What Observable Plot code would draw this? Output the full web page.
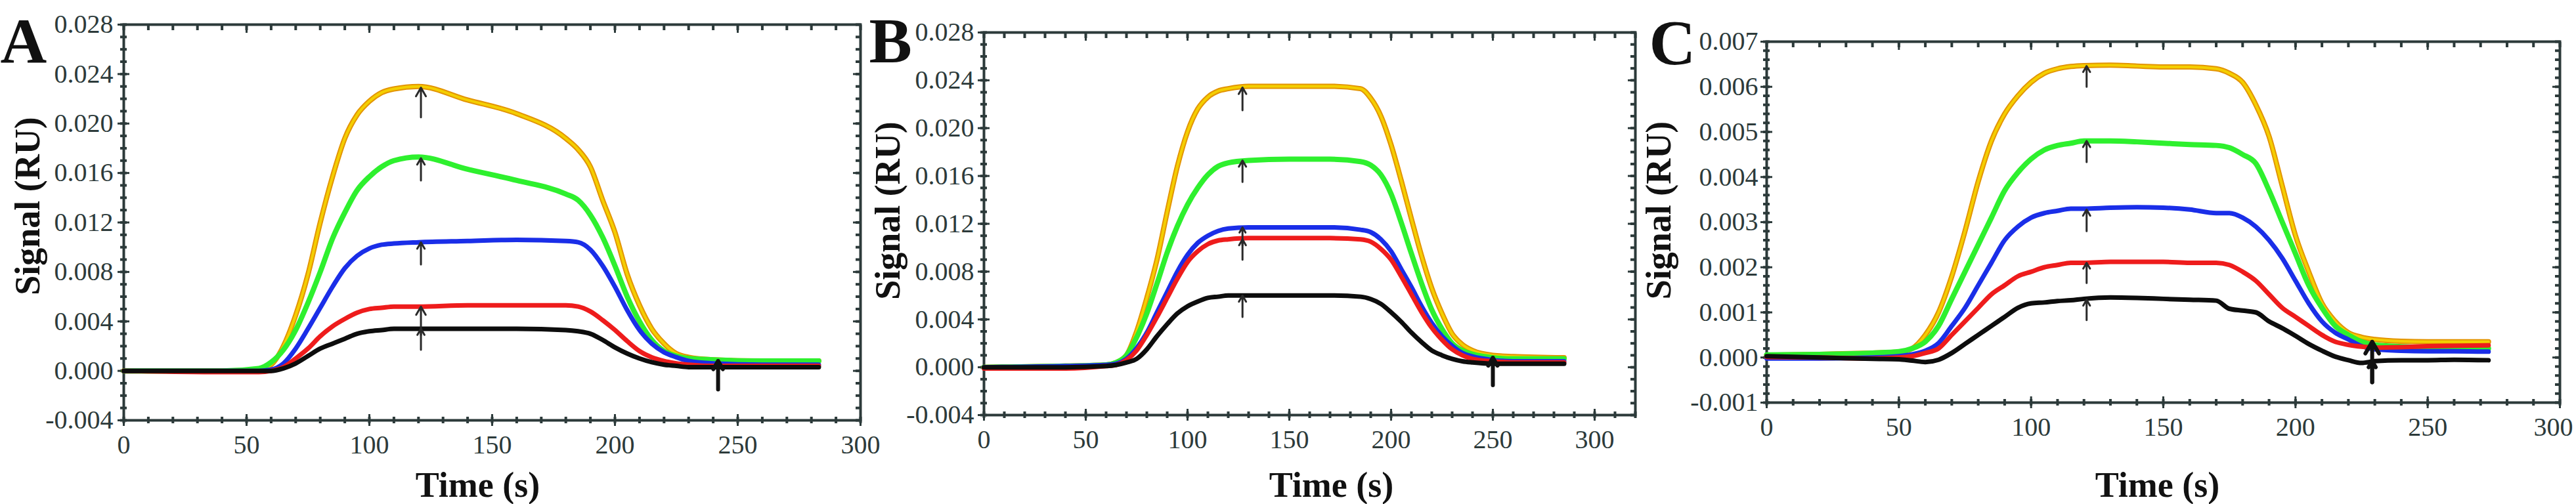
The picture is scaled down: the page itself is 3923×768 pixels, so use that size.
<!DOCTYPE html>
<html><head><meta charset="utf-8">
<script src="https://cdn.jsdelivr.net/npm/d3@7"></script>
<script src="https://cdn.jsdelivr.net/npm/@observablehq/plot@0.6"></script>
<style>
body{margin:0;background:#fff;}
#root{position:relative;width:3923px;height:768px;overflow:hidden;background:#fff;}
.panel{position:absolute;top:0;}
.panel svg{overflow:visible;max-width:none;}
</style></head><body><div id="root"></div>
<script>
// ---- text ----
const panelLetters = ["A", "B", "C"];
const xTitle = "Time (s)";
const yTitle = "Signal (RU)";
const seriesNames = ["yellow", "green", "blue", "red", "black"];

// ---- tick labels ----
const A_xTicks = [0, 50, 100, 150, 200, 250, 300];
const A_yTicks = [-0.004, 0, 0.004, 0.008, 0.012, 0.016, 0.020, 0.024, 0.028];
const B_xTicks = [0, 50, 100, 150, 200, 250, 300];
const B_yTicks = [-0.004, 0, 0.004, 0.008, 0.012, 0.016, 0.020, 0.024, 0.028];
const C_xTicks = [0, 50, 100, 150, 200, 250, 300];
const C_yTicks = [-0.001, 0, 0.001, 0.002, 0.003, 0.004, 0.005, 0.006, 0.007];

// ---- panel A data ----
const A_time   = [0, 40, 55, 60, 65, 70, 75, 80, 85, 90, 95, 100, 105, 110, 120, 140, 160, 180, 185, 190, 195, 200, 205, 210, 215, 220, 225, 230, 240, 260, 283];
const A_yellow = [0, 0, 0.0001, 0.0005, 0.0020, 0.0045, 0.0078, 0.0120, 0.0157, 0.0188, 0.0207, 0.0218, 0.0225, 0.0228, 0.0230, 0.0219, 0.0208, 0.0188, 0.0179, 0.0165, 0.0138, 0.0112, 0.0078, 0.0053, 0.0034, 0.0022, 0.0014, 0.0011, 0.0009, 0.0008, 0.0008];
const A_green  = [0, 0, 0.0002, 0.0007, 0.0017, 0.0033, 0.0055, 0.0080, 0.0107, 0.0128, 0.0146, 0.0157, 0.0165, 0.0170, 0.0173, 0.0163, 0.0154, 0.0143, 0.0138, 0.0126, 0.0108, 0.0085, 0.0060, 0.0040, 0.0025, 0.0016, 0.0012, 0.0010, 0.0009, 0.0008, 0.0008];
const A_blue   = [0, 0, 0, 0.0001, 0.0006, 0.0018, 0.0034, 0.0051, 0.0068, 0.0083, 0.0093, 0.0099, 0.0102, 0.0103, 0.0104, 0.0105, 0.0106, 0.0105, 0.0104, 0.0098, 0.0085, 0.0068, 0.0049, 0.0033, 0.0022, 0.0015, 0.0011, 0.0008, 0.0006, 0.0005, 0.0005];
const A_red    = [0, -0.0001, -0.0001, 0, 0.0003, 0.0010, 0.0018, 0.0028, 0.0036, 0.0042, 0.0047, 0.0050, 0.0051, 0.0052, 0.0052, 0.0053, 0.0053, 0.0053, 0.0052, 0.0048, 0.0041, 0.0033, 0.0024, 0.0016, 0.0011, 0.0008, 0.0006, 0.0005, 0.0004, 0.0004, 0.0004];
const A_black  = [0, 0, 0, 0, 0.0002, 0.0006, 0.0012, 0.0018, 0.0022, 0.0026, 0.0030, 0.0032, 0.0033, 0.0034, 0.0034, 0.0034, 0.0034, 0.0033, 0.0032, 0.0030, 0.0025, 0.0019, 0.0014, 0.0010, 0.0007, 0.0005, 0.0004, 0.0003, 0.0003, 0.0003, 0.0003];
const A_arrowTime = [121, 121, 121, 121, 121];
const A_arrowTail = [0.0205, 0.0154, 0.0086, 0.0029, 0.0017];
const A_arrowTip  = [0.0229, 0.0172, 0.0104, 0.0052, 0.0034];
const A_endTime = [242];
const A_endTail = [-0.0015];
const A_endTip  = [0.0008];

// ---- panel B data ----
const B_time   = [0, 40, 60, 65, 70, 75, 80, 85, 90, 95, 100, 105, 110, 115, 120, 130, 150, 170, 185, 190, 195, 200, 205, 210, 215, 220, 225, 230, 235, 240, 250, 260, 285];
const B_yellow = [0, 0.0001, 0.0002, 0.0004, 0.0010, 0.0030, 0.0058, 0.0090, 0.0130, 0.0168, 0.0197, 0.0216, 0.0226, 0.0231, 0.0233, 0.0235, 0.0235, 0.0235, 0.0233, 0.0225, 0.0210, 0.0186, 0.0156, 0.0124, 0.0093, 0.0066, 0.0045, 0.0028, 0.0019, 0.0014, 0.0010, 0.0009, 0.0008];
const B_green  = [0, 0.0001, 0.0002, 0.0004, 0.0010, 0.0025, 0.0045, 0.0070, 0.0096, 0.0118, 0.0136, 0.0150, 0.0161, 0.0168, 0.0171, 0.0173, 0.0174, 0.0174, 0.0172, 0.0169, 0.0161, 0.0145, 0.0121, 0.0095, 0.0070, 0.0048, 0.0032, 0.0020, 0.0014, 0.0011, 0.0008, 0.0007, 0.0007];
const B_blue   = [0, 0.0001, 0.0002, 0.0003, 0.0007, 0.0016, 0.0029, 0.0046, 0.0063, 0.0080, 0.0094, 0.0104, 0.0110, 0.0114, 0.0116, 0.0117, 0.0117, 0.0117, 0.0115, 0.0113, 0.0107, 0.0097, 0.0082, 0.0067, 0.0051, 0.0037, 0.0026, 0.0018, 0.0012, 0.0009, 0.0006, 0.0005, 0.0005];
const B_red    = [-0.0001, -0.0001, 0.0001, 0.0002, 0.0006, 0.0014, 0.0027, 0.0042, 0.0058, 0.0074, 0.0088, 0.0097, 0.0103, 0.0106, 0.0107, 0.0108, 0.0108, 0.0108, 0.0107, 0.0105, 0.0099, 0.0090, 0.0076, 0.0061, 0.0046, 0.0033, 0.0023, 0.0015, 0.0010, 0.0007, 0.0005, 0.0004, 0.0004];
const B_black  = [0, 0, 0.0001, 0.0002, 0.0004, 0.0007, 0.0015, 0.0026, 0.0036, 0.0045, 0.0051, 0.0055, 0.0058, 0.0059, 0.0060, 0.0060, 0.0060, 0.0060, 0.0059, 0.0057, 0.0053, 0.0046, 0.0038, 0.0029, 0.0021, 0.0014, 0.0010, 0.0007, 0.0005, 0.0004, 0.0003, 0.0003, 0.0003];
const B_arrowTime = [127, 127, 127, 127, 127];
const B_arrowTail = [0.0215, 0.0155, 0.0102, 0.0090, 0.0042];
const B_arrowTip  = [0.0234, 0.0173, 0.0117, 0.0107, 0.0060];
const B_endTime = [250];
const B_endTail = [-0.0015];
const B_endTip  = [0.0008];

// ---- panel C data ----
const C_time   = [0, 20, 40, 50, 55, 60, 65, 70, 75, 80, 85, 90, 95, 100, 105, 110, 115, 120, 130, 140, 150, 160, 170, 175, 180, 185, 190, 195, 200, 205, 210, 215, 220, 225, 230, 240, 250, 260, 273];
const C_yellow = [0.00005, 0.00007, 0.0001, 0.00012, 0.0002, 0.0005, 0.0010, 0.0018, 0.0028, 0.0039, 0.0048, 0.0054, 0.0058, 0.0061, 0.0063, 0.0064, 0.00645, 0.00647, 0.00648, 0.00646, 0.00644, 0.00644, 0.0064, 0.0063, 0.0061, 0.0056, 0.0049, 0.0038, 0.0027, 0.0019, 0.0012, 0.0008, 0.00055, 0.00045, 0.0004, 0.00036, 0.00035, 0.00035, 0.00035];
const C_green  = [0.00006, 0.00007, 0.0001, 0.00013, 0.0002, 0.00035, 0.0007, 0.0013, 0.0019, 0.0025, 0.0031, 0.0037, 0.0041, 0.0044, 0.0046, 0.0047, 0.00475, 0.0048, 0.0048, 0.00478, 0.00475, 0.00472, 0.0047, 0.00465, 0.0045, 0.0043, 0.0037, 0.0030, 0.0023, 0.0016, 0.0011, 0.0007, 0.0005, 0.00035, 0.00028, 0.00024, 0.00022, 0.00021, 0.0002];
const C_blue   = [-0.00002, -0.00002, 0, 0.00003, 0.00007, 0.00015, 0.00032, 0.0007, 0.0011, 0.0016, 0.0021, 0.0026, 0.0029, 0.0031, 0.0032, 0.00325, 0.0033, 0.0033, 0.00332, 0.00333, 0.00332, 0.00328, 0.0032, 0.0032, 0.0031, 0.0029, 0.0026, 0.0022, 0.0017, 0.0012, 0.0008, 0.00055, 0.0004, 0.00025, 0.00018, 0.00015, 0.00014, 0.00014, 0.00013];
const C_red    = [0.00001, 0, -0.00002, 0, 0.00003, 0.0001, 0.0002, 0.0005, 0.0008, 0.0011, 0.0014, 0.0016, 0.0018, 0.0019, 0.0020, 0.00205, 0.0021, 0.0021, 0.00212, 0.00212, 0.00212, 0.0021, 0.0021, 0.00205, 0.0019, 0.0017, 0.0014, 0.0011, 0.0009, 0.0007, 0.0005, 0.00035, 0.00028, 0.00024, 0.00022, 0.00023, 0.00025, 0.00026, 0.00027];
const C_black  = [0.00003, 0, -0.00003, -0.00004, -0.00007, -0.0001, -0.00005, 0.0001, 0.0003, 0.0005, 0.0007, 0.0009, 0.0011, 0.0012, 0.00122, 0.00125, 0.00127, 0.0013, 0.00133, 0.00132, 0.0013, 0.00128, 0.00126, 0.00108, 0.00104, 0.0010, 0.0008, 0.00065, 0.00048, 0.0003, 0.00015, 0.00002, -0.00006, -0.00012, -0.00008, -0.00006, -0.00006, -0.00005, -0.00006];
const C_arrowTime = [121, 121, 121, 121, 121];
const C_arrowTail = [0.0060, 0.00433, 0.0028, 0.00165, 0.00083];
const C_arrowTip  = [0.00646, 0.0048, 0.00328, 0.0021, 0.00128];
const C_endTime = [229, 229];
const C_endTail = [-0.00055, -0.00055];
const C_endTip  = [0.00035, -0.00008];

// ---- styling ----
const FRAME = "#2c3a3a";
const COLORS = {yellow: "#f4cf00", green: "#2ef02e", blue: "#1a2ee8", red: "#ee1c1c", black: "#0d0d0d"};
const YELLOW_EDGE = "#e39400";
const FONT = "'Liberation Serif', 'Times New Roman', serif";

function makePanel(cfg) {
  const rows = [];
  seriesNames.forEach((name, k) => cfg.values[k].forEach((v, i) => rows.push({s: name, t: cfg.time[i], v})));
  const arrows = cfg.arrowTime.map((t, i) => ({t, tail: cfg.arrowTail[i], tip: cfg.arrowTip[i]}));
  const ends = cfg.endTime.map((t, i) => ({t, tail: cfg.endTail[i], tip: cfg.endTip[i]}));
  const blank = () => "";
  const fmtY = d => d.toFixed(3);
  const xMinor = d3.range(cfg.xDomain[0], cfg.xDomain[1] + 0.01, 10);
  const yMinor = d3.range(cfg.yDomain[0], cfg.yDomain[1] + cfg.yMinorStep / 2, cfg.yMinorStep);
  const lineOf = (name) => rows.filter(r => r.s === name);
  // the last x label may be nudged left (as in the reference's panel C)
  const xMain = cfg.lastLabelDx ? cfg.xTicks.slice(0, -1) : cfg.xTicks;
  const xLast = cfg.lastLabelDx ? cfg.xTicks.slice(-1) : [];
  const marks = [
    // minor ticks (dots) on all four sides
    Plot.axisX(xMinor, {anchor: "bottom", tickSize: 10, dy: -5, strokeWidth: 4, tickFormat: blank, label: null}),
    Plot.axisX(xMinor, {anchor: "top", tickSize: 8, dy: 8, strokeWidth: 4, tickFormat: blank, label: null}),
    Plot.axisY(yMinor, {anchor: "left", tickSize: 10, dx: 5, strokeWidth: 4, tickFormat: blank, label: null}),
    Plot.axisY(yMinor, {anchor: "right", tickSize: 8, dx: -8, strokeWidth: 4, tickFormat: blank, label: null}),
    // major ticks
    Plot.axisX(cfg.xTicks, {anchor: "bottom", tickSize: 18, dy: -9, strokeWidth: 3, tickFormat: blank, label: null}),
    Plot.axisX(cfg.xTicks, {anchor: "top", tickSize: 12, dy: 12, strokeWidth: 3, tickFormat: blank, label: null}),
    Plot.axisY(cfg.yTicks, {anchor: "left", tickSize: 18, dx: 9, strokeWidth: 3, tickFormat: blank, label: null}),
    Plot.axisY(cfg.yTicks, {anchor: "right", tickSize: 12, dx: -12, strokeWidth: 3, tickFormat: blank, label: null}),
    // tick labels
    Plot.axisX(xMain, {anchor: "bottom", tickSize: 0, tickPadding: 22, fontSize: 40, tickFormat: d => String(d), label: null}),
    Plot.axisX(xLast, {anchor: "bottom", tickSize: 0, tickPadding: 22, fontSize: 40, dx: cfg.lastLabelDx || 0, tickFormat: d => String(d), label: null}),
    Plot.axisY(cfg.yTicks, {anchor: "left", tickSize: 0, tickPadding: cfg.yPad, fontSize: 40, tickFormat: fmtY, label: null}),
    Plot.frame({stroke: FRAME, strokeWidth: 4}),
    // curves
    Plot.line(lineOf("yellow"), {x: "t", y: "v", stroke: YELLOW_EDGE, strokeWidth: 8, curve: "monotone-x"}),
    Plot.line(lineOf("yellow"), {x: "t", y: "v", stroke: COLORS.yellow, strokeWidth: 4, curve: "monotone-x"}),
    Plot.line(lineOf("green"), {x: "t", y: "v", stroke: COLORS.green, strokeWidth: 8, curve: "monotone-x"}),
    Plot.line(lineOf("blue"), {x: "t", y: "v", stroke: COLORS.blue, strokeWidth: 7, curve: "monotone-x"}),
    Plot.line(lineOf("red"), {x: "t", y: "v", stroke: COLORS.red, strokeWidth: 7, curve: "monotone-x"}),
    Plot.line(lineOf("black"), {x: "t", y: "v", stroke: COLORS.black, strokeWidth: 7, curve: "monotone-x"}),
    // arrows
    Plot.arrow(arrows, {x1: "t", x2: "t", y1: "tail", y2: "tip", stroke: "#2a2a2a", strokeWidth: 3, headLength: 16, headAngle: 60}),
    Plot.arrow(ends, {x1: "t", x2: "t", y1: "tail", y2: "tip", stroke: "#111", strokeWidth: 6, headLength: 16, headAngle: 60}),
    // titles
    Plot.text([xTitle], {text: d => d, frameAnchor: "bottom", dx: cfg.xTitleDx, dy: cfg.xTitleDy, lineAnchor: "top", fontSize: 54, fontWeight: "bold", fill: "#111"}),
    Plot.text([yTitle], {text: d => d, frameAnchor: "left", rotate: -90, dx: cfg.yTitleDx, dy: cfg.yTitleDy, lineAnchor: "middle", textAnchor: "middle", fontSize: 54, fontWeight: "bold", fill: "#111"}),
    Plot.text([cfg.letter], {text: d => d, frameAnchor: "top-left", dx: cfg.letterDx, dy: cfg.letterDy, lineAnchor: "top", textAnchor: "start", fontSize: 98, fontWeight: "bold", fill: "#111"})
  ];
  return Plot.plot({
    width: cfg.width, height: 768,
    marginLeft: cfg.marginLeft, marginRight: cfg.marginRight, marginTop: cfg.marginTop, marginBottom: cfg.marginBottom,
    x: {domain: cfg.xDomain},
    y: {domain: cfg.yDomain},
    style: {fontFamily: FONT, background: "transparent", overflow: "visible", color: FRAME},
    marks
  });
}

const panels = [
  {letter: panelLetters[0], left: 0, width: 1340, marginLeft: 188, marginRight: 30, marginTop: 37, marginBottom: 128,
   xDomain: [0, 300], yDomain: [-0.004, 0.028], yMinorStep: 0.001, xTicks: A_xTicks, yTicks: A_yTicks, yPad: 16,
   time: A_time, values: [A_yellow, A_green, A_blue, A_red, A_black],
   arrowTime: A_arrowTime, arrowTail: A_arrowTail, arrowTip: A_arrowTip, endTime: A_endTime, endTail: A_endTail, endTip: A_endTip,
   xTitleDx: -22, xTitleDy: 78, yTitleDx: -146, yTitleDy: -25, letterDx: -188, letterDy: -12},
  {letter: panelLetters[1], left: 1310, width: 1220, marginLeft: 188, marginRight: 40, marginTop: 49, marginBottom: 136,
   xDomain: [0, 320], yDomain: [-0.004, 0.028], yMinorStep: 0.001, xTicks: B_xTicks, yTicks: B_yTicks, yPad: 15,
   time: B_time, values: [B_yellow, B_green, B_blue, B_red, B_black],
   arrowTime: B_arrowTime, arrowTail: B_arrowTail, arrowTip: B_arrowTip, endTime: B_endTime, endTail: B_endTail, endTip: B_endTip,
   xTitleDx: 33, xTitleDy: 86, yTitleDx: -146, yTitleDy: -20, letterDx: -175, letterDy: -24},
  {letter: panelLetters[2], left: 2530, width: 1393, marginLeft: 160, marginRight: 25, marginTop: 63, marginBottom: 155,
   xDomain: [0, 300], yDomain: [-0.001, 0.007], yMinorStep: 0.0002, xTicks: C_xTicks, yTicks: C_yTicks, yPad: 13, lastLabelDx: -10,
   time: C_time, values: [C_yellow, C_green, C_blue, C_red, C_black],
   arrowTime: C_arrowTime, arrowTail: C_arrowTail, arrowTip: C_arrowTip, endTime: C_endTime, endTail: C_endTail, endTip: C_endTip,
   xTitleDx: -9, xTitleDy: 105, yTitleDx: -164, yTitleDy: -18, letterDx: -179, letterDy: -35}
];

const root = document.getElementById("root");
panels.forEach(cfg => {
  const div = document.createElement("div");
  div.className = "panel";
  div.style.left = cfg.left + "px";
  div.style.width = cfg.width + "px";
  div.appendChild(makePanel(cfg));
  root.appendChild(div);
});
</script></body></html>
